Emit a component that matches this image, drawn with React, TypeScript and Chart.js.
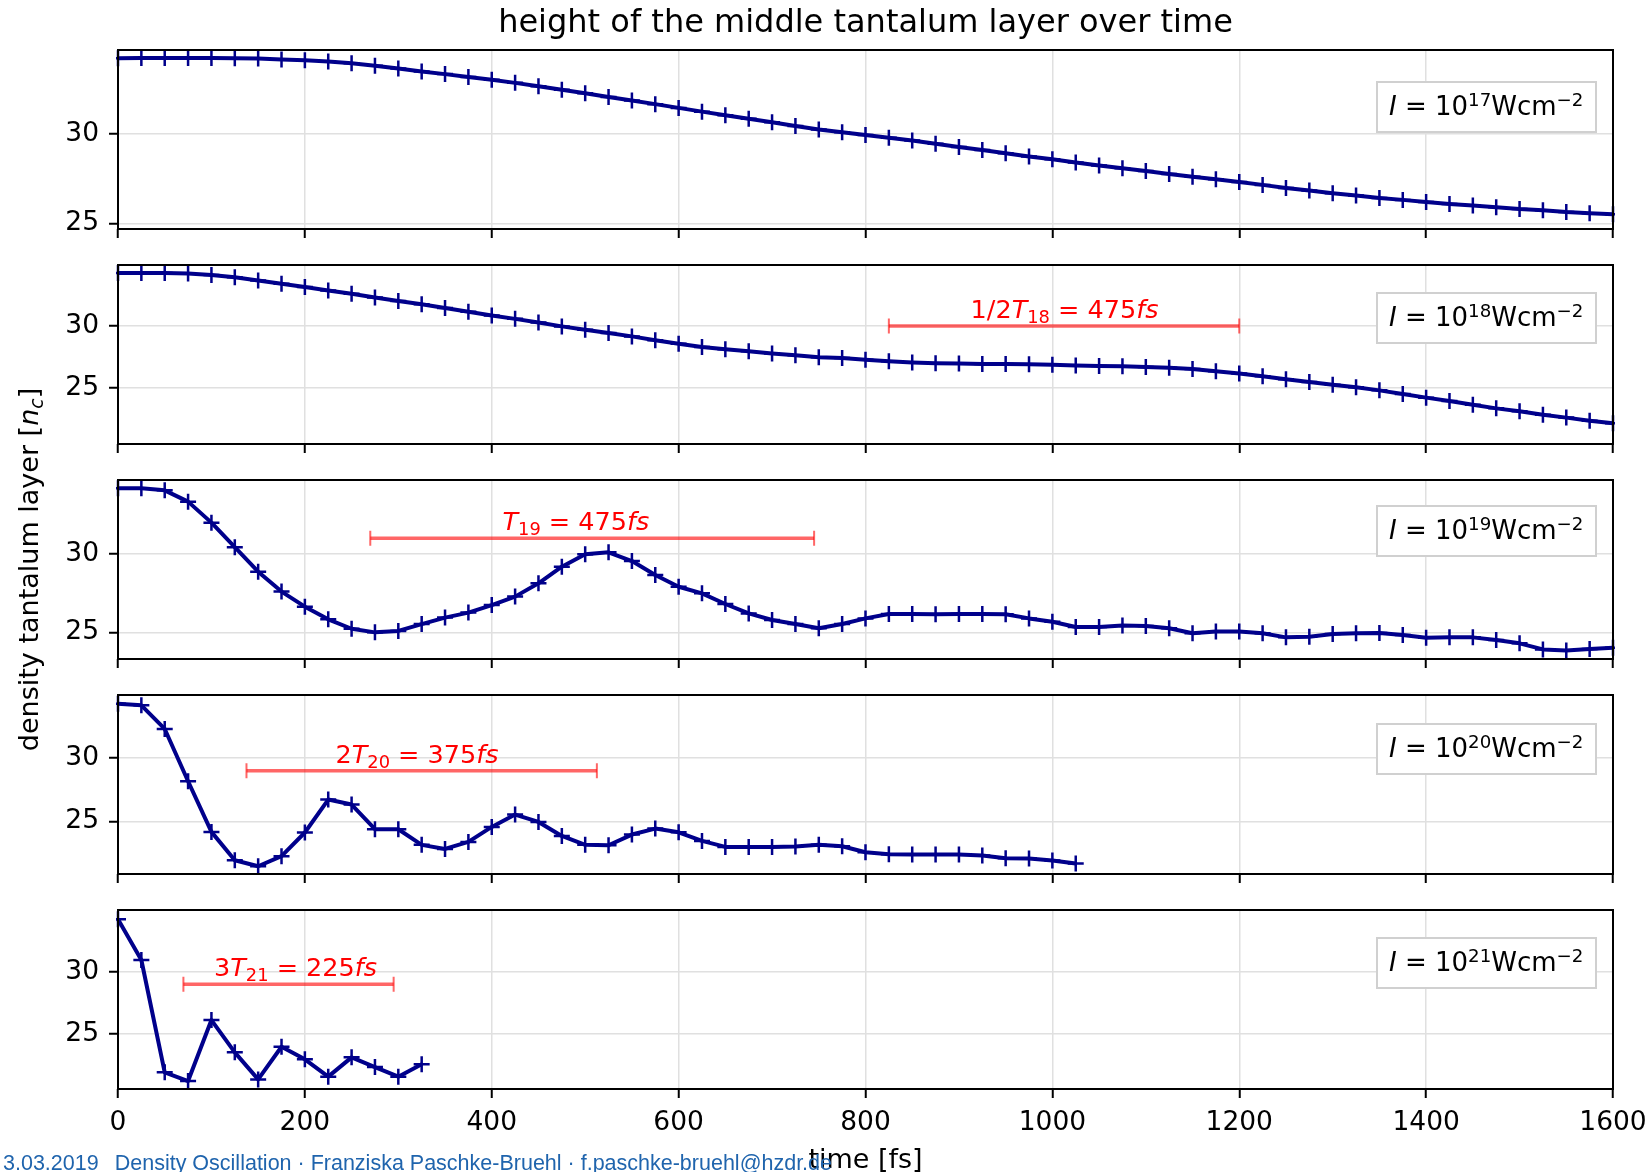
import { useEffect, useRef } from 'react';
import { Chart, registerables } from 'chart.js';

Chart.register(...registerables);

// ---------------------------------------------------------------------------
// data: density of the middle tantalum layer [n_c] sampled every 25 fs
// ---------------------------------------------------------------------------
const TIME_FS = [
  0, 25, 50, 75, 100, 125, 150, 175, 200, 225, 250, 275, 300, 325, 350, 375,
  400, 425, 450, 475, 500, 525, 550, 575, 600, 625, 650, 675, 700, 725, 750,
  775, 800, 825, 850, 875, 900, 925, 950, 975, 1000, 1025, 1050, 1075, 1100,
  1125, 1150, 1175, 1200, 1225, 1250, 1275, 1300, 1325, 1350, 1375, 1400,
  1425, 1450, 1475, 1500, 1525, 1550, 1575, 1600,
];

const DENSITY_I17 = [
  34.24, 34.25, 34.25, 34.25, 34.25, 34.24, 34.22, 34.17, 34.12, 34.05, 33.96,
  33.82, 33.66, 33.5, 33.35, 33.19, 33.03, 32.86, 32.67, 32.48, 32.28, 32.07,
  31.87, 31.67, 31.46, 31.25, 31.05, 30.85, 30.65, 30.45, 30.25, 30.09, 29.94,
  29.79, 29.63, 29.45, 29.27, 29.1, 28.92, 28.74, 28.58, 28.4, 28.23, 28.08,
  27.93, 27.76, 27.61, 27.46, 27.31, 27.15, 26.98, 26.83, 26.68, 26.55, 26.42,
  26.31, 26.19, 26.08, 25.99, 25.9, 25.8, 25.73, 25.63, 25.56, 25.5,
];

const DENSITY_I18 = [
  34.3, 34.31, 34.3, 34.27, 34.14, 33.95, 33.7, 33.43, 33.16, 32.89, 32.62,
  32.32, 32.03, 31.76, 31.46, 31.15, 30.86, 30.58, 30.28, 29.97, 29.7, 29.43,
  29.16, 28.85, 28.56, 28.3, 28.11, 27.95, 27.78, 27.62, 27.47, 27.4, 27.27,
  27.14, 27.04, 26.98, 26.95, 26.92, 26.91, 26.89, 26.86, 26.79, 26.76, 26.73,
  26.68, 26.61, 26.51, 26.33, 26.14, 25.92, 25.68, 25.46, 25.24, 25.03, 24.78,
  24.49, 24.19, 23.92, 23.62, 23.32, 23.08, 22.81, 22.57, 22.32, 22.11,
];

const DENSITY_I19 = [
  34.19, 34.19, 34.06, 33.34, 32.0, 30.43, 28.87, 27.6, 26.64, 25.83, 25.23,
  25.0, 25.09, 25.53, 25.94, 26.26, 26.74, 27.28, 28.13, 29.19, 29.98, 30.11,
  29.55, 28.66, 27.91, 27.49, 26.81, 26.21, 25.79, 25.53, 25.26, 25.53, 25.89,
  26.17, 26.17, 26.15, 26.17, 26.17, 26.15, 25.89, 25.68, 25.34, 25.34, 25.43,
  25.4, 25.26, 24.94, 25.06, 25.06, 24.94, 24.68, 24.72, 24.89, 24.94, 24.96,
  24.83, 24.66, 24.68, 24.68, 24.51, 24.3, 23.91, 23.85, 23.94, 24.02,
];

const DENSITY_I20 = [
  34.27, 34.14, 32.28, 28.17, 24.19, 21.96, 21.49, 22.28, 24.14, 26.73, 26.34,
  24.4, 24.4, 23.17, 22.85, 23.4, 24.58, 25.55, 24.97, 23.87, 23.17, 23.14,
  23.98, 24.45, 24.16, 23.48, 23.01, 23.01, 23.01, 23.04, 23.17, 23.06, 22.59,
  22.43, 22.41, 22.41, 22.41, 22.33, 22.12, 22.09, 21.94, 21.7,
];

const DENSITY_I21 = [
  34.2, 30.94, 21.93, 21.23, 26.12, 23.53, 21.36, 23.98, 22.97, 21.58, 23.13,
  22.35, 21.58, 22.57,
];

const SERIES = [DENSITY_I17, DENSITY_I18, DENSITY_I19, DENSITY_I20, DENSITY_I21];
const INTENSITY_EXPONENTS = ['17', '18', '19', '20', '21'];

// axis limits per intensity
const Y_MIN = [24.68, 20.43, 23.3, 20.88, 20.59];
const Y_MAX = [34.7, 34.95, 34.72, 34.95, 34.95];
const X_TICKS = [0, 200, 400, 600, 800, 1000, 1200, 1400, 1600];
const Y_TICKS = [25, 30];

// oscillation period markers (one per panel, none for 10^17)
const PERIOD_PANEL = [1, 2, 3, 4];
const PERIOD_START_FS = [825, 270, 137.5, 70];
const PERIOD_END_FS = [1200, 745, 512.5, 295];
const PERIOD_LEVEL = [30, 31, 29, 29];
const PERIOD_LABEL_FS = [1013, 490, 320, 190];
const PERIOD_FACTOR = ['1/2', '', '2', '3'];
const PERIOD_VALUE = ['475', '475', '375', '225'];

// ---------------------------------------------------------------------------
// page geometry
// ---------------------------------------------------------------------------
const PAGE_W = 1650;
const PAGE_H = 1172;
const PLOT_LEFT = 118;
const PLOT_RIGHT = 1613;
const PANEL_TOPS = [50, 265, 480, 695, 910];
const PANEL_H = 179;
const LEGEND_OFFSETS = [32, 28, 26, 29, 28];
const LEGEND_LEFT = 1377;
const LEGEND_W = 219;
const LEGEND_H = 50;

const FONT = "'DejaVu Sans', sans-serif";
const TICK_SIZE = 26.5;
const LINE_COLOR = '#00008b';
const GRID_COLOR = '#e0e0e0';

interface Seg {
  t: string;
  it?: boolean;
  sub?: boolean;
  sup?: boolean;
}

function segFont(s: Seg, size: number, family: string) {
  const sz = s.sub || s.sup ? size * 0.7 : size;
  return `${s.it ? 'italic ' : ''}${sz}px ${family}`;
}

// draws a run of text pieces with italics, subscripts and superscripts
function drawRich(
  ctx: CanvasRenderingContext2D,
  segs: Seg[],
  x: number,
  y: number,
  size: number,
  family: string,
  color: string,
  align: 'left' | 'center',
) {
  ctx.save();
  ctx.fillStyle = color;
  ctx.textAlign = 'left';
  ctx.textBaseline = 'alphabetic';
  const widths = segs.map((s) => {
    ctx.font = segFont(s, size, family);
    return ctx.measureText(s.t).width;
  });
  const total = widths.reduce((a, b) => a + b, 0);
  let cx = align === 'center' ? x - total / 2 : x;
  segs.forEach((s, k) => {
    ctx.font = segFont(s, size, family);
    const dy = s.sub ? size * 0.2 : s.sup ? -size * 0.34 : 0;
    ctx.fillText(s.t, cx, y + dy);
    cx += widths[k];
  });
  ctx.restore();
}

// legend box, period marker and frame of one panel
function panelDecor(i: number) {
  return {
    id: `panelDecor${i}`,
    afterDatasetsDraw(chart: any) {
      const { ctx, chartArea, scales } = chart;
      const p = PERIOD_PANEL.indexOf(i);
      if (p >= 0) {
        const x1 = scales.x.getPixelForValue(PERIOD_START_FS[p]);
        const x2 = scales.x.getPixelForValue(PERIOD_END_FS[p]);
        const y = scales.y.getPixelForValue(PERIOD_LEVEL[p]);
        ctx.save();
        ctx.strokeStyle = 'rgba(255, 0, 0, 0.6)';
        ctx.lineWidth = 3.5;
        ctx.beginPath();
        ctx.moveTo(x1, y);
        ctx.lineTo(x2, y);
        ctx.stroke();
        ctx.lineWidth = 2;
        ctx.beginPath();
        ctx.moveTo(x1, y - 7.5);
        ctx.lineTo(x1, y + 7.5);
        ctx.moveTo(x2, y - 7.5);
        ctx.lineTo(x2, y + 7.5);
        ctx.stroke();
        ctx.restore();
        const segs: Seg[] = [];
        if (PERIOD_FACTOR[p]) segs.push({ t: PERIOD_FACTOR[p] });
        segs.push({ t: 'T', it: true });
        segs.push({ t: INTENSITY_EXPONENTS[i], sub: true });
        segs.push({ t: ` = ${PERIOD_VALUE[p]}` });
        segs.push({ t: 'fs', it: true });
        const lx = scales.x.getPixelForValue(PERIOD_LABEL_FS[p]);
        drawRich(ctx, segs, lx, y - 8, 25.5, FONT, '#ff0000', 'center');
      }

      const top = chartArea.top + LEGEND_OFFSETS[i];
      ctx.save();
      ctx.fillStyle = '#ffffff';
      ctx.fillRect(LEGEND_LEFT, top, LEGEND_W, LEGEND_H);
      ctx.strokeStyle = '#d0d0d0';
      ctx.lineWidth = 2;
      ctx.strokeRect(LEGEND_LEFT, top, LEGEND_W, LEGEND_H);
      ctx.restore();
      drawRich(
        ctx,
        [
          { t: 'I', it: true },
          { t: ' = 10' },
          { t: INTENSITY_EXPONENTS[i], sup: true },
          { t: 'Wcm' },
          { t: '\u22122', sup: true },
        ],
        LEGEND_LEFT + 12,
        top + 33,
        26,
        FONT,
        '#000000',
        'left',
      );
    },
    afterDraw(chart: any) {
      const { ctx, chartArea } = chart;
      ctx.save();
      ctx.strokeStyle = '#000000';
      ctx.lineWidth = 2;
      ctx.strokeRect(
        chartArea.left,
        chartArea.top,
        chartArea.right - chartArea.left,
        chartArea.bottom - chartArea.top,
      );
      ctx.restore();
    },
  };
}

// figure title, shared axis labels and footer line
const pageText = {
  id: 'pageText',
  afterDraw(chart: any) {
    const { ctx } = chart;
    const cx = (PLOT_LEFT + PLOT_RIGHT) / 2;
    drawRich(ctx, [{ t: 'height of the middle tantalum layer over time' }], cx, 31.5, 32, FONT, '#000', 'center');
    drawRich(ctx, [{ t: 'time [fs]' }], cx, 1168, 27, FONT, '#000', 'center');

    ctx.save();
    ctx.translate(38, PANEL_TOPS[2] + PANEL_H / 2);
    ctx.rotate(-Math.PI / 2);
    drawRich(
      ctx,
      [{ t: 'density tantalum layer [' }, { t: 'n', it: true }, { t: 'c', it: true, sub: true }, { t: ']' }],
      0,
      0,
      27,
      FONT,
      '#000',
      'center',
    );
    ctx.restore();

    const foot = "'Liberation Sans', Arial, sans-serif";
    drawRich(ctx, [{ t: '3.03.2019' }], 3, 1169.5, 21.5, foot, '#1f64ad', 'left');
    drawRich(
      ctx,
      [{ t: 'Density Oscillation \u00b7 Franziska Paschke-Bruehl \u00b7 f.paschke-bruehl@hzdr.de' }],
      114.7,
      1169.5,
      21.5,
      foot,
      '#1f64ad',
      'left',
    );
  },
};

function buildConfig(i: number): any {
  const values = SERIES[i];
  const isLast = i === SERIES.length - 1;
  const top = PANEL_TOPS[i];
  const bottom = top + PANEL_H;
  const xAxisH = isLast ? 44 : 12;
  const grid = {
    color: GRID_COLOR,
    lineWidth: 1.5,
    drawTicks: true,
    tickLength: 9,
    tickColor: '#000000',
    tickWidth: 2,
  };
  return {
    type: 'line',
    data: {
      datasets: [
        {
          data: values.map((v, k) => ({ x: TIME_FS[k], y: v })),
          borderColor: LINE_COLOR,
          backgroundColor: LINE_COLOR,
          borderWidth: 4,
          borderJoinStyle: 'round',
          pointStyle: 'cross',
          pointRadius: 8,
          pointHoverRadius: 8,
          pointBorderWidth: 2.5,
          pointBorderColor: LINE_COLOR,
          tension: 0,
          fill: false,
          clip: 2,
        },
      ],
    },
    options: {
      animation: false,
      responsive: false,
      maintainAspectRatio: false,
      devicePixelRatio: 1,
      events: [],
      layout: {
        padding: {
          left: 0,
          right: PAGE_W - PLOT_RIGHT,
          top,
          bottom: PAGE_H - bottom - xAxisH,
        },
      },
      plugins: {
        legend: { display: false },
        tooltip: { enabled: false },
        title: { display: false },
      },
      scales: {
        x: {
          type: 'linear',
          min: 0,
          max: 1600,
          afterBuildTicks: (s: any) => {
            s.ticks = X_TICKS.map((v) => ({ value: v }));
          },
          afterFit: (s: any) => {
            s.height = xAxisH;
            s.paddingLeft = 0;
            s.paddingRight = 0;
          },
          grid,
          border: { display: false },
          ticks: {
            display: isLast,
            color: '#000000',
            font: { family: FONT, size: TICK_SIZE },
            padding: 9,
            maxRotation: 0,
            autoSkip: false,
            callback: (v: number) => String(v),
          },
        },
        y: {
          type: 'linear',
          min: Y_MIN[i],
          max: Y_MAX[i],
          afterBuildTicks: (s: any) => {
            s.ticks = Y_TICKS.map((v) => ({ value: v }));
          },
          afterFit: (s: any) => {
            s.width = PLOT_LEFT;
            s.paddingTop = 0;
            s.paddingBottom = 0;
          },
          grid,
          border: { display: false },
          ticks: {
            color: '#000000',
            font: { family: FONT, size: TICK_SIZE },
            padding: 10,
            callback: (v: number) => String(v),
          },
        },
      },
    },
    plugins: isLast ? [panelDecor(i), pageText] : [panelDecor(i)],
  };
}

function Panel({ index }: { index: number }) {
  const ref = useRef<HTMLCanvasElement>(null);
  useEffect(() => {
    if (!ref.current) return undefined;
    const chart = new Chart(ref.current, buildConfig(index));
    return () => chart.destroy();
  }, [index]);
  return (
    <canvas
      ref={ref}
      width={PAGE_W}
      height={PAGE_H}
      style={{ position: 'absolute', left: 0, top: 0, width: PAGE_W, height: PAGE_H }}
    />
  );
}

export default function App() {
  return (
    <div
      style={{
        position: 'absolute',
        left: 0,
        top: 0,
        width: PAGE_W,
        height: PAGE_H,
        background: '#ffffff',
        overflow: 'hidden',
      }}
    >
      {SERIES.map((_, i) => (
        <Panel key={i} index={i} />
      ))}
    </div>
  );
}
